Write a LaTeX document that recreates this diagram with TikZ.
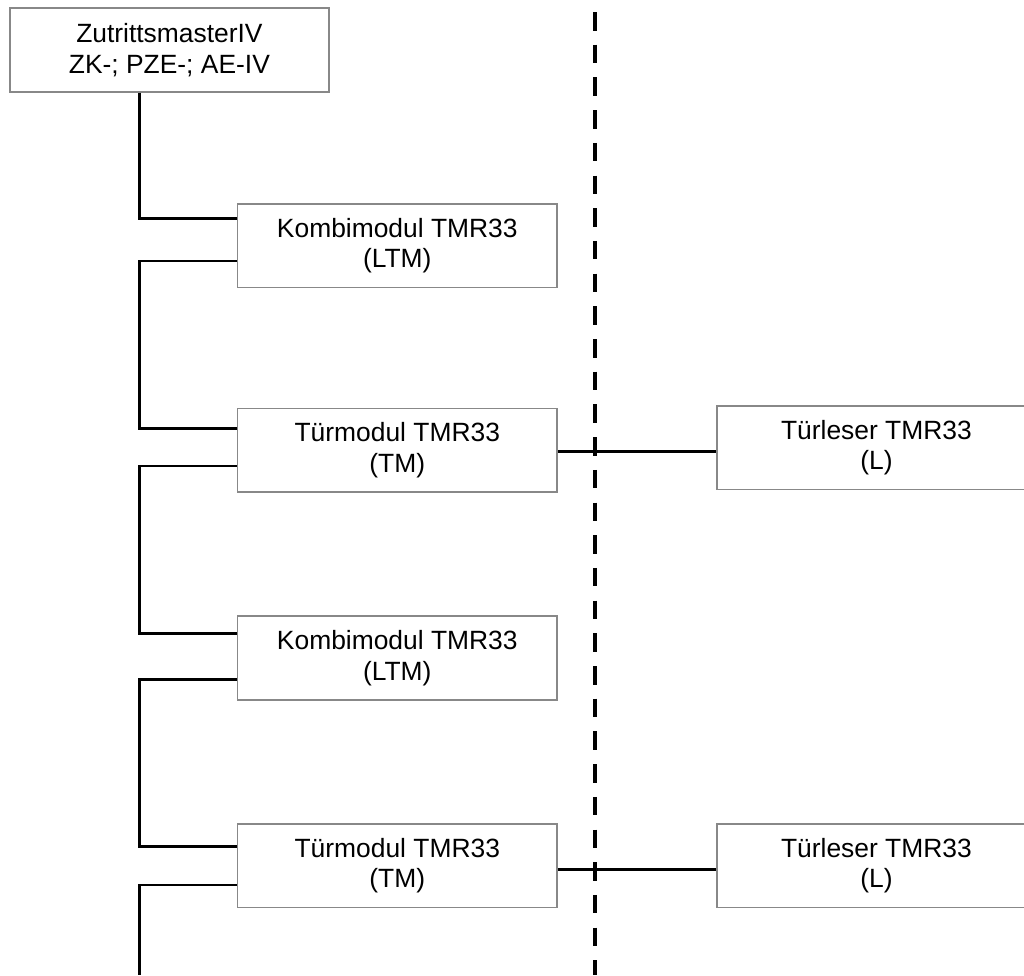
\documentclass[tikz,border=0pt]{standalone}
\usepackage{fontspec}
\setmainfont{Liberation Sans}
\definecolor{boxgray}{HTML}{888888}
\begin{document}
\begin{tikzpicture}[x=1pt,y=-1pt,
  box/.style={draw=boxgray,line width=1.8pt,fill=white,align=center,
    minimum width=319.5pt,minimum height=83.5pt,inner sep=0pt,
    font=\fontsize{26.4}{30.4}\selectfont},
  wire/.style={line width=2.8pt,black},
  divider/.style={line width=4pt,black,dash pattern=on 18.5pt off 14.2pt}]
\useasboundingbox (0,0) rectangle (1024,975);
\coordinate (col) at (139.5,0);
\coordinate (dtop) at (595,12);
\coordinate (dbot) at (595,975);
\coordinate (bot) at (139.5,975);
% divider
\draw[divider] (dtop) -- (dbot);
% nodes
\node[box] (top) at (169.4,50) {ZutrittsmasterIV\\ZK-; PZE-; AE-IV};
\node[box] (k1) at (397.3,245.7) {Kombimodul TMR33\\(LTM)};
\node[box] (t1) at (397.3,450.2) {Türmodul TMR33\\(TM)};
\node[box] (k2) at (397.3,658) {Kombimodul TMR33\\(LTM)};
\node[box] (t2) at (397.3,865.7) {Türmodul TMR33\\(TM)};
\node[box] (l1) at (876.4,447.7) {Türleser TMR33\\(L)};
\node[box] (l2) at (876.4,865.7) {Türleser TMR33\\(L)};
% bus connectors
\draw[wire] (top.south -| col) |- ([yshift=27.4pt]k1.west);
\draw[wire] ([yshift=-15.3pt]k1.west) -| (col |- t1.north) |- ([yshift=21.9pt]t1.west);
\draw[wire] ([yshift=-15.8pt]t1.west) -| (col |- k2.north) |- ([yshift=24.7pt]k2.west);
\draw[wire] ([yshift=-21.3pt]k2.west) -| (col |- t2.north) |- ([yshift=19pt]t2.west);
\draw[wire] ([yshift=-19.3pt]t2.west) -| (bot);
% reader connectors
\draw[wire] ([yshift=-1.3pt]t1.east) -- ([yshift=-1.3pt]t1.east -| l1.west);
\draw[wire] ([yshift=-3.6pt]t2.east) -- ([yshift=-3.6pt]t2.east -| l2.west);
\end{tikzpicture}
\end{document}
